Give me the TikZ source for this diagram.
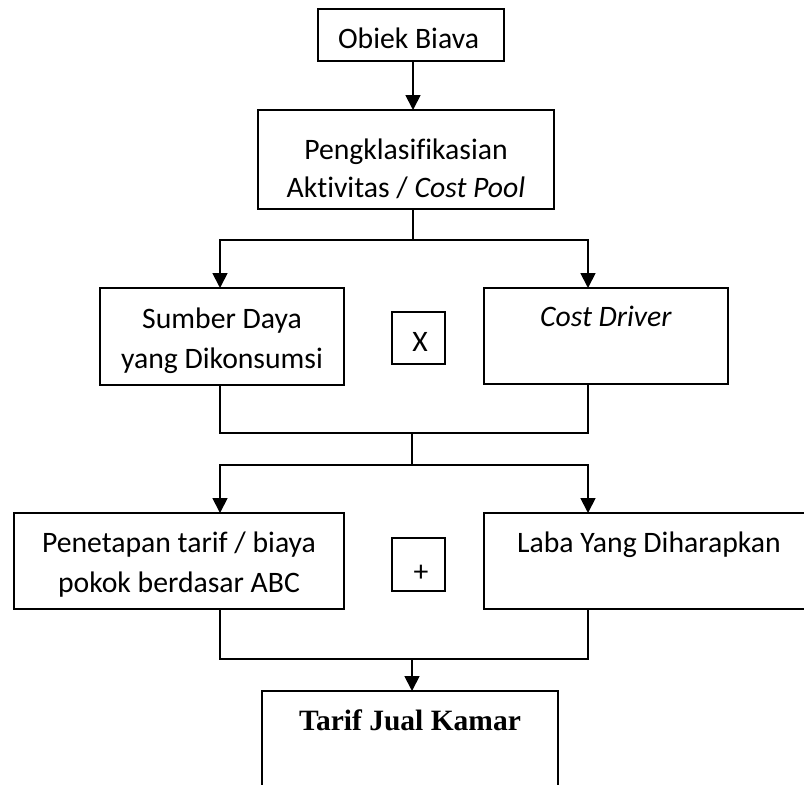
\documentclass[tikz,border=0pt]{standalone}
\usepackage{fontspec}
\setmainfont{Carlito}[Ligatures=NoCommon]
\newfontfamily\headserif{Liberation Serif}
\usetikzlibrary{arrows.meta}
\begin{document}
\begin{tikzpicture}[x=1pt,y=-1pt,
  box/.style={draw, line width=1.8pt, rectangle, inner sep=0pt, outer sep=0pt},
  txt/.style={font=\fontsize{29.7}{40}\selectfont, align=center, anchor=base, inner sep=0pt},
  link/.style={line width=1.8pt, line join=miter},
  flow/.style={line width=1.8pt, line join=miter, -{Triangle[width=15pt,length=15pt]}},
]
\useasboundingbox (0,0) rectangle (804,785);
\clip (0,0) rectangle (804,785);

% boxes
\node[box, minimum width=186, minimum height=52] (obiek)  at (411,35) {};
\node[box, minimum width=296, minimum height=99] (klas)   at (406,159.5) {};
\node[box, minimum width=244, minimum height=97] (sumber) at (222,336.5) {};
\node[box, minimum width=244, minimum height=96] (driver) at (606,336) {};
\node[box, minimum width=53,  minimum height=52] (kali)   at (418.5,338) {};
\node[box, minimum width=330, minimum height=96] (tetap)  at (179,561) {};
\node[box, minimum width=53,  minimum height=53] (tambah) at (418.5,564.5) {};
\node[box, minimum width=330, minimum height=96] (laba)   at (649,561) {};
\node[box, minimum width=296, minimum height=129] (tarif) at (410,755.5) {};

% texts (base anchor sits on the last line of each node)
\node[txt, font=\fontsize{29.7}{38}\selectfont] (t-klas) at (406,197) {Pengklasifikasian\\Aktivitas / \textit{Cost Pool}};
\node[txt] (t-obiek)  at (408.5,48) {Obiek Biava};
\node[txt] (t-sumber) at (222,368) {Sumber Daya\\yang Dikonsumsi};
\node[txt] (t-driver) at (606,326) {\textit{Cost Driver}};
\node[txt] (t-kali)   at (420,351) {X};
\node[txt] (t-tetap)  at (179,592) {Penetapan tarif / biaya\\pokok berdasar ABC};
\node[txt] (t-tambah) at (421,581) {+};
\node[txt] (t-laba)   at (649,552) {Laba Yang Diharapkan};
\node[txt, font=\headserif\bfseries\fontsize{29.5}{35}\selectfont] (t-tarif) at (410,730) {Tarif Jual Kamar};

% connector positions
\coordinate (mid) at (413,0);
\coordinate (la) at (220,0);
\coordinate (ra) at (588,0);
\coordinate (split1) at (413,240);
\coordinate (join1) at (412,433);
\coordinate (split2) at (412,465);
\coordinate (join2) at (412,659);

\draw[flow] (obiek.south -| mid) -- (klas.north -| mid);
\draw[link] (klas.south -| split1) -- (split1);
\draw[flow] (split1) -| (sumber.north -| la);
\draw[flow] (split1) -| (driver.north -| ra);

\draw[link] (sumber.south -| la) -- (la |- join1) -- (ra |- join1) -- (driver.south -| ra);
\draw[link] (join1) -- (split2);
\draw[flow] (split2) -| (tetap.north -| la);
\draw[flow] (split2) -| (laba.north -| ra);

\draw[link] (tetap.south -| la) -- (la |- join2) -- (ra |- join2) -- (laba.south -| ra);
\draw[flow] (join2) -- (tarif.north -| join2);
\end{tikzpicture}
\end{document}
